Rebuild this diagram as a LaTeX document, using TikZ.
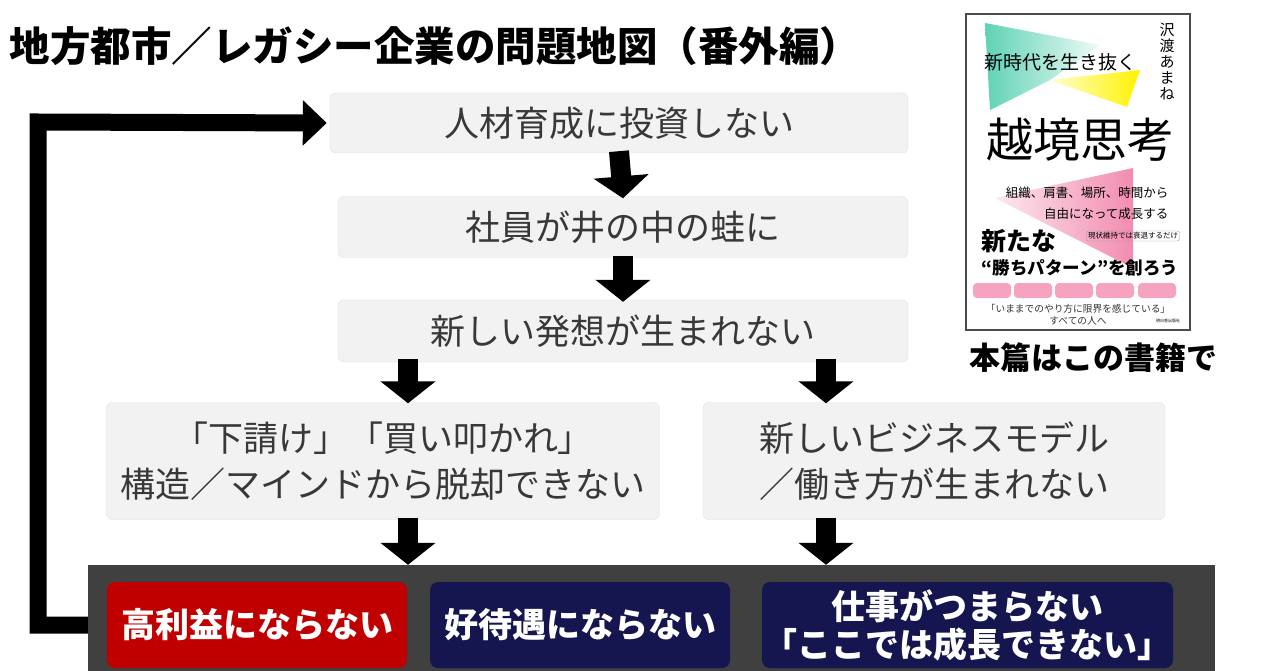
\documentclass[tikz,border=0pt]{standalone}
\usepackage{fontspec}
\setmainfont{Noto Sans CJK JP}
\usetikzlibrary{arrows.meta,positioning,calc}
\definecolor{boxgray}{HTML}{F2F2F2}
\definecolor{bargray}{HTML}{404040}
\definecolor{redbox}{HTML}{C00000}
\definecolor{navybox}{HTML}{15154F}
\definecolor{coverpink}{HTML}{F28CB0}
\definecolor{coverteal}{HTML}{5FD3B5}
\tikzset{
 cause/.style={rounded corners=6pt, fill=boxgray, draw=black!12, align=center,
   font=\fontsize{35}{46}\selectfont, text=black!78, inner sep=0pt},
 result/.style={rounded corners=8pt, align=center, text=white,
   font=\bfseries\fontsize{34}{38}\selectfont, inner sep=0pt},
 bigarrow/.style={line width=20pt, -{Triangle[width=54pt,length=22pt]}},
 pill/.style={rounded corners=4pt, fill=coverpink!80}
}
\begin{document}
\begin{tikzpicture}[x=1pt,y=-1pt]
\useasboundingbox (0,0) rectangle (1280,671);
\fill[white] (0,0) rectangle (1280,671);

% title
\node[anchor=west, font=\bfseries\fontsize{40.5}{44}\selectfont] (title) at (6,46)
  {地方都市／レガシー企業の問題地図（番外編）};

% chain of causes
\node[cause, minimum width=578pt, minimum height=60pt] (b1) at (619,123) {人材育成に投資しない};
\node[cause, minimum width=570pt, minimum height=61pt] (b2) at (623,227) {社員が井の中の蛙に};
\node[cause, minimum width=570pt, minimum height=62pt] (b3) at (623,331) {新しい発想が生まれない};
\node[cause, minimum width=553pt, minimum height=117pt] (b4) at (383,461)
  {「下請け」「買い叩かれ」\\構造／マインドから脱却できない};
\node[cause, minimum width=462pt, minimum height=117pt] (b5) at (934,461)
  {新しいビジネスモデル\\／働き方が生まれない};

% results
\node[fill=bargray, minimum width=1127pt, minimum height=106pt, inner sep=0pt] (bar) at (651.5,618) {};
\node[result, fill=redbox, minimum width=300pt, minimum height=86pt] (r1) at (257,625) {高利益にならない};
\node[result, fill=navybox, minimum width=300pt, minimum height=86pt] (r2) at (580,625) {好待遇にならない};
\node[result, fill=navybox, minimum width=411pt, minimum height=86pt] (r3) at (967.5,625)
  {仕事がつまらない\\「ここでは成長できない」};

\draw[bigarrow] ([yshift=2pt]b1.south) -- ([yshift=-2pt]b2.north);
\draw[bigarrow] ([yshift=2pt]b2.south) -- ([yshift=-2pt]b3.north);
\draw[bigarrow] ([yshift=3pt]b3.south -| 408,0) -- ([yshift=-1pt]b4.north -| 408,0);
\draw[bigarrow] ([yshift=3pt]b3.south -| 826,0) -- ([yshift=-1pt]b5.north -| 826,0);
\draw[bigarrow] ([yshift=2pt]b4.south -| 408,0) -- (bar.north -| 408,0);
\draw[bigarrow] ([yshift=2pt]b5.south -| 826,0) -- (bar.north -| 826,0);

% loop back
\draw[line width=17pt, -{Triangle[width=44pt,length=24pt]}]
  (bar.west |- 0,625) -| (38,122) -- ([xshift=-3pt]b1.west);

% book cover
\node[draw=black!70, line width=1.2pt, minimum width=224pt, minimum height=316pt, inner sep=0pt] (cover) at (1078,172) {};
\shade[left color=coverteal, right color=coverteal!10] (985,23) -- (1100,45) -- (1050,80) -- (990,110) -- cycle;
\shade[left color=yellow!20, right color=yellow!90!orange] (1050,80) -- (1140,70) -- (1127,107) -- cycle;
\shade[left color=coverpink!20, right color=coverpink] (1133,168) -- (995,198) -- (1133,268) -- cycle;
\node[font=\fontsize{19}{20}\selectfont] (subt) at (1060,62) {新時代を生き抜く};
\node[font=\fontsize{15}{16}\selectfont, align=center] (author) at (1167,62) {沢\\渡\\あ\\ま\\ね};
\node[font=\fontsize{47}{50}\selectfont] (booktitle) at (1080,140) {越境思考};
\node[font=\fontsize{12.5}{21}\selectfont, align=right, anchor=east] (tag1) at (1172,203) {組織、肩書、場所、時間から\\自由になって成長する};
\node[font=\bfseries\fontsize{25}{26}\selectfont, anchor=west] (tag2) at (978,241) {新たな};
\node[font=\fontsize{7.5}{8}\selectfont, draw=black!40, rounded corners=2pt, inner sep=1.5pt] (tag3) at (1133,236) {現状維持では衰退するだけ};
\node[font=\bfseries\fontsize{17.5}{18}\selectfont] (tag4) at (1080,268) {“勝ちパターン”を創ろう};
\foreach \px in {992,1033,1074,1115,1157}
  \fill[pill] (\px-19,283) rectangle (\px+19,298);
\node[font=\fontsize{9.7}{12}\selectfont, align=center, text=black!80] (tag5) at (1078,315) {「いままでのやり方に限界を感じている」\\すべての人へ};
\node[font=\fontsize{4}{4}\selectfont] (pub) at (1168,321) {明日香出版社};
\node[font=\bfseries\fontsize{31}{32}\selectfont] (caption) at (1093,358) {本篇はこの書籍で};
\end{tikzpicture}
\end{document}
